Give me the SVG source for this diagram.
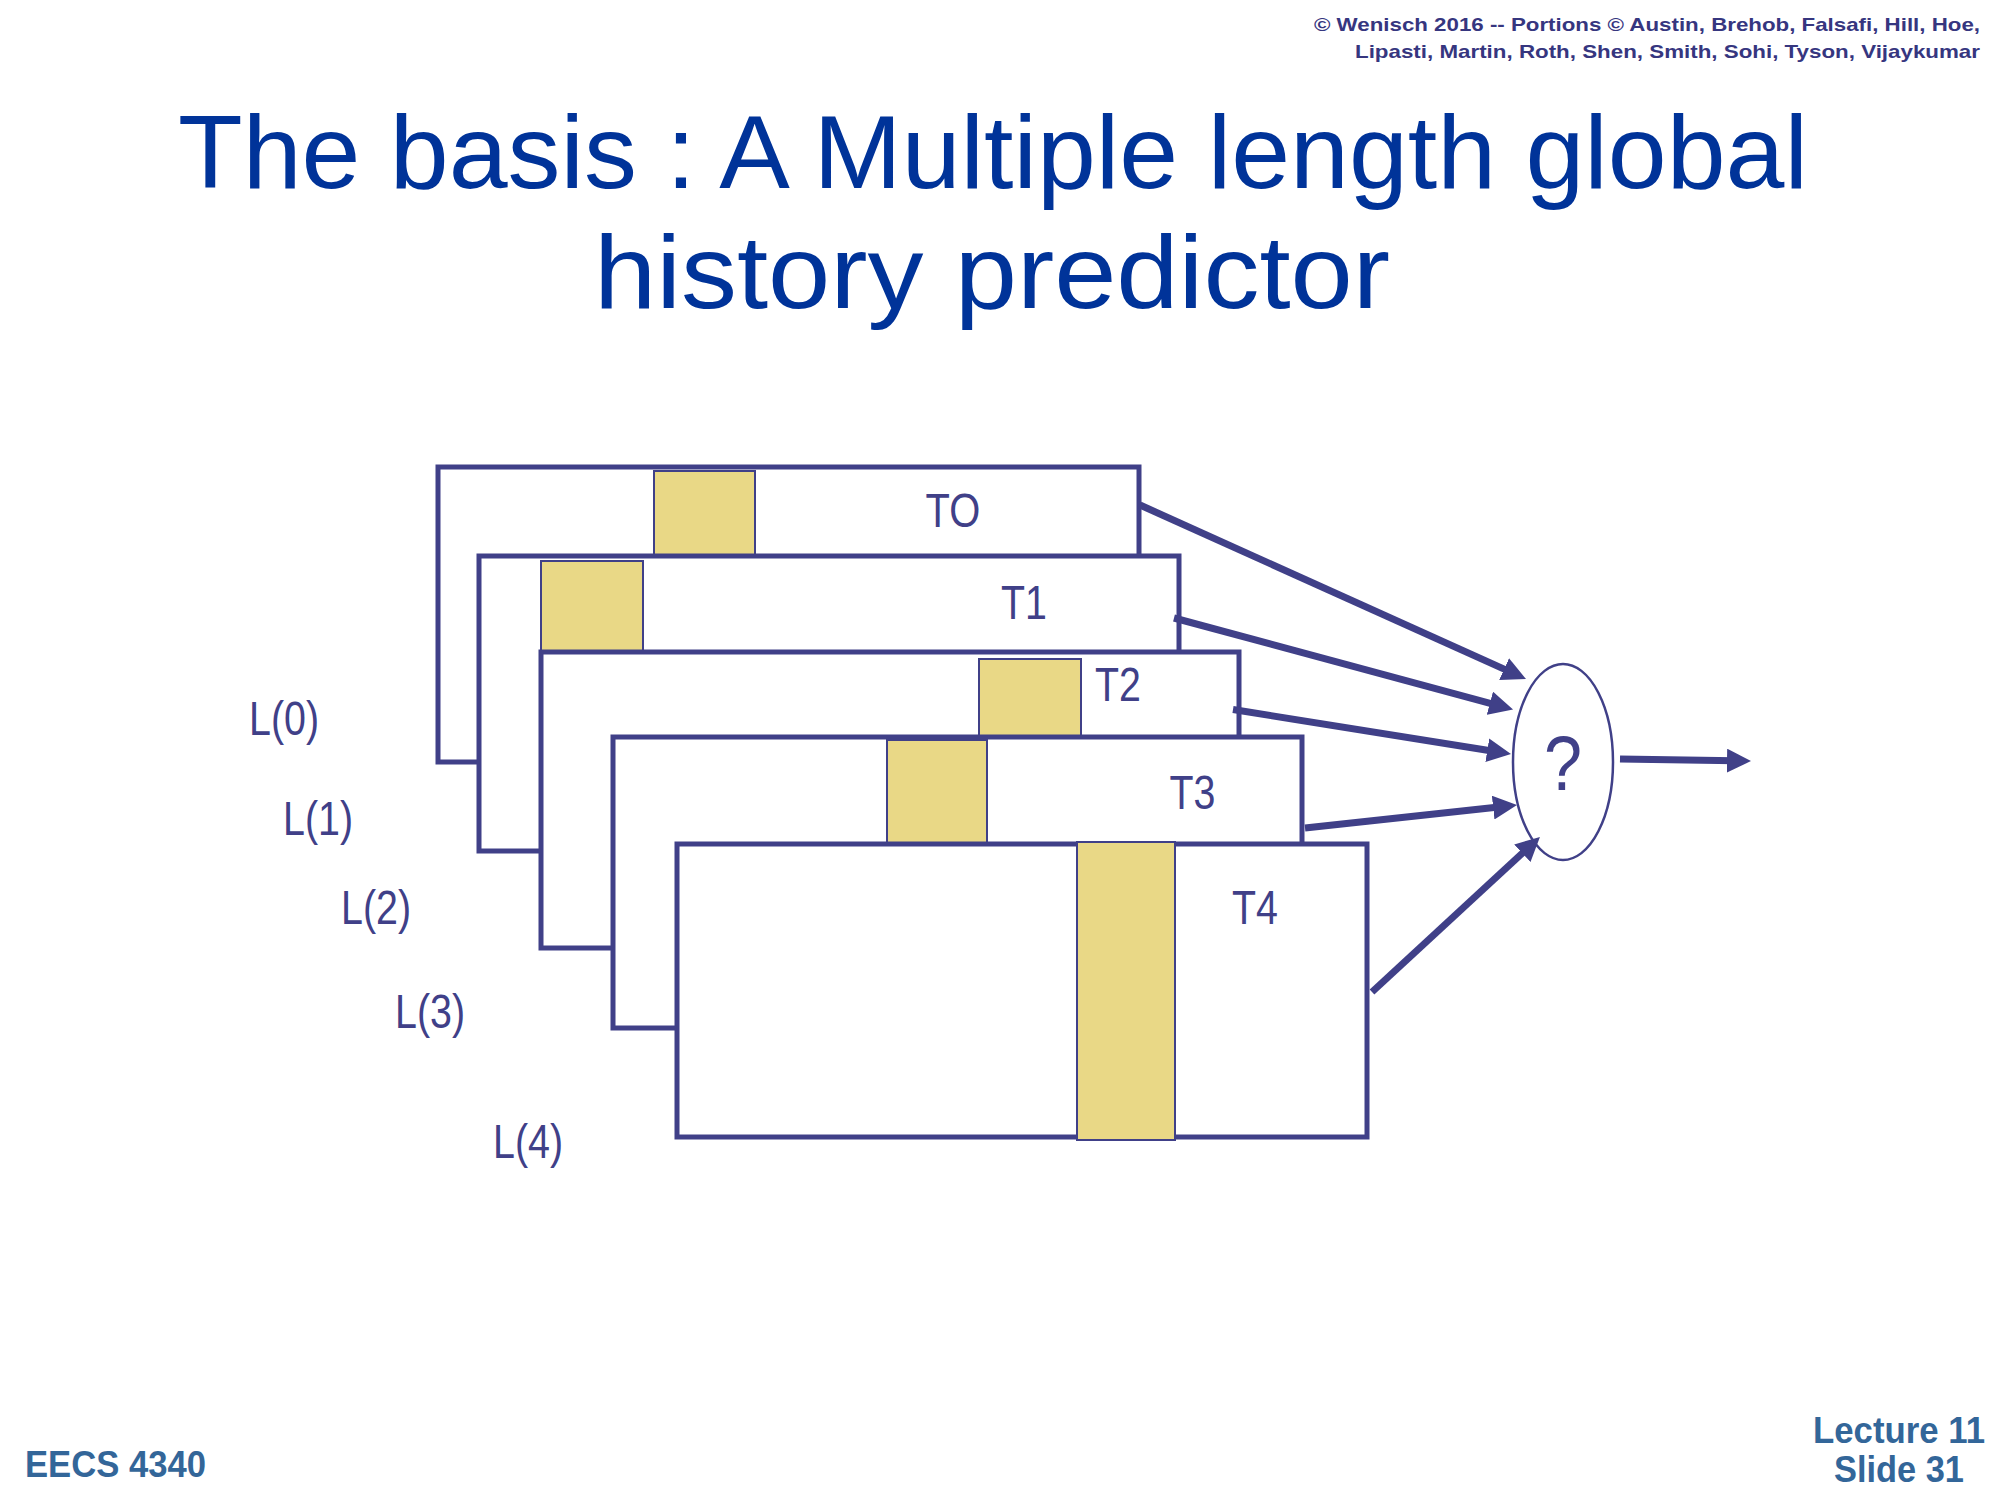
<svg xmlns="http://www.w3.org/2000/svg" width="2000" height="1500" viewBox="0 0 2000 1500">
<style>
.box{fill:#ffffff;stroke:#404088;stroke-width:5}
.hl{fill:#E9D886;stroke:#404088;stroke-width:2}
.lbl{font-family:"Liberation Sans",Arial,sans-serif;font-size:48px;fill:#404088}
.title{font-family:"Liberation Sans",Arial,sans-serif;font-size:104px;fill:#003399;text-anchor:middle}
.copy{font-family:"Liberation Sans",Arial,sans-serif;font-size:19px;font-weight:bold;fill:#36367f;text-anchor:end}
.foot{font-family:"Liberation Sans",Arial,sans-serif;font-size:36px;font-weight:bold;fill:#336699}
.arr{stroke:#404088;stroke-width:7;fill:none;marker-end:url(#ah)}
</style>
<defs>
<marker id="ah" markerUnits="userSpaceOnUse" markerWidth="24" markerHeight="24" viewBox="0 0 24 24" refX="8" refY="12" orient="auto">
<path d="M0,0 L24,12 L0,24 z" fill="#404088"/>
</marker>
</defs>
<rect width="2000" height="1500" fill="#ffffff"/>
<g id="copyright">
<text class="copy" x="1980" y="31" textLength="666" lengthAdjust="spacingAndGlyphs">© Wenisch 2016 -- Portions © Austin, Brehob, Falsafi, Hill, Hoe,</text>
<text class="copy" x="1980" y="58" textLength="625" lengthAdjust="spacingAndGlyphs">Lipasti, Martin, Roth, Shen, Smith, Sohi, Tyson, Vijaykumar</text>
</g>
<g id="title">
<text class="title" x="993" y="188" textLength="1630" lengthAdjust="spacingAndGlyphs">The basis : A Multiple length global</text>
<text class="title" x="992" y="308" textLength="796" lengthAdjust="spacingAndGlyphs">history predictor</text>
</g>
<g id="table-T0">
<rect class="box" x="438" y="467" width="701" height="295"/>
<rect class="hl" x="654" y="471" width="101" height="90"/>
<text class="lbl" x="925.5" y="527" textLength="54.7" lengthAdjust="spacingAndGlyphs">TO</text>
</g>
<g id="table-T1">
<rect class="box" x="479" y="556" width="700" height="295"/>
<rect class="hl" x="541" y="561" width="102" height="95"/>
<text class="lbl" x="1001" y="619" textLength="45.9" lengthAdjust="spacingAndGlyphs">T1</text>
</g>
<g id="table-T2">
<rect class="box" x="541" y="652" width="698" height="296"/>
<rect class="hl" x="979" y="659" width="102" height="80"/>
<text class="lbl" x="1095" y="701" textLength="45.9" lengthAdjust="spacingAndGlyphs">T2</text>
</g>
<g id="table-T3">
<rect class="box" x="613" y="737" width="689" height="291"/>
<rect class="hl" x="887" y="740" width="100" height="105"/>
<text class="lbl" x="1169.5" y="809" textLength="45.9" lengthAdjust="spacingAndGlyphs">T3</text>
</g>
<g id="table-T4">
<rect class="box" x="677" y="844" width="690" height="293"/>
<rect class="hl" x="1077" y="842" width="98" height="298"/>
<text class="lbl" x="1232" y="924" textLength="45.9" lengthAdjust="spacingAndGlyphs">T4</text>
</g>
<g id="lengths">
<text class="lbl" x="249" y="735" textLength="70" lengthAdjust="spacingAndGlyphs">L(0)</text>
<text class="lbl" x="283" y="835" textLength="70" lengthAdjust="spacingAndGlyphs">L(1)</text>
<text class="lbl" x="341" y="924" textLength="70" lengthAdjust="spacingAndGlyphs">L(2)</text>
<text class="lbl" x="395" y="1028" textLength="70" lengthAdjust="spacingAndGlyphs">L(3)</text>
<text class="lbl" x="493" y="1158" textLength="70" lengthAdjust="spacingAndGlyphs">L(4)</text>
</g>
<g id="selector">
<ellipse cx="1563" cy="762" rx="50" ry="98" fill="#ffffff" stroke="#404088" stroke-width="2.5"/>
<text class="lbl" x="1563" y="790" style="font-size:77px;text-anchor:middle" textLength="38" lengthAdjust="spacingAndGlyphs">?</text>
</g>
<g id="connectors">
<line class="arr" x1="1140" y1="505" x2="1511.4" y2="672.4"/>
<line class="arr" x1="1174" y1="618" x2="1497.6" y2="705.3"/>
<line class="arr" x1="1233" y1="709.5" x2="1495.2" y2="751.5"/>
<line class="arr" x1="1305" y1="828" x2="1501.1" y2="806.7"/>
<line class="arr" x1="1372" y1="992" x2="1528.2" y2="847.8"/>
<line class="arr" x1="1620" y1="759" x2="1735" y2="760.8"/>
</g>
<g id="footer">
<text class="foot" x="25" y="1477" textLength="181" lengthAdjust="spacingAndGlyphs">EECS 4340</text>
<text class="foot" x="1899" y="1443" style="text-anchor:middle" textLength="172" lengthAdjust="spacingAndGlyphs">Lecture 11</text>
<text class="foot" x="1899" y="1482" style="text-anchor:middle" textLength="130" lengthAdjust="spacingAndGlyphs">Slide 31</text>
</g>
</svg>
